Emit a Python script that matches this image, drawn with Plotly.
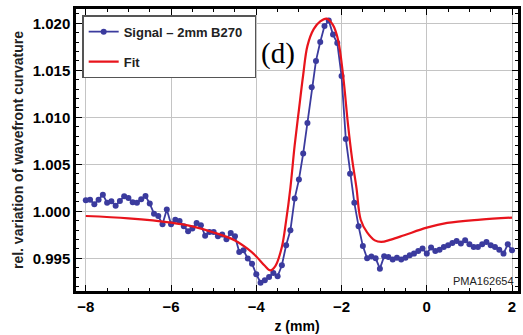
import plotly.graph_objects as go

# ---- data ----
signal_z = [round(-8.0 + 0.1 * i, 1) for i in range(101)]
signal_v = [
    1.00117, 1.00124, 1.00074, 1.00124, 1.00177, 1.00092, 1.00106, 1.00060, 1.00110, 1.00160,
    1.00142, 1.00096, 1.00092, 1.00128, 1.00163, 1.00082, 0.99975, 0.99950, 0.99862, 1.00018,
    0.99862, 0.99911, 0.99897, 0.99840, 0.99787, 0.99816, 0.99876, 0.99851, 0.99741, 0.99780,
    0.99780, 0.99734, 0.99752, 0.99702, 0.99769, 0.99734, 0.99567, 0.99585, 0.99497, 0.99443,
    0.99330, 0.99241, 0.99266, 0.99301, 0.99344, 0.99309, 0.99426, 0.99638, 0.99798, 1.00135,
    1.00337, 1.00614, 1.00940, 1.01320, 1.01600, 1.01800, 1.01970, 1.02030, 1.01880, 1.01790,
    1.01440, 1.00770, 1.00400, 1.00090, 0.99840, 0.99630, 0.99500, 0.99520, 0.99500, 0.99390,
    0.99521, 0.99514, 0.99486, 0.99507, 0.99486, 0.99507, 0.99532, 0.99550, 0.99578, 0.99603,
    0.99550, 0.99614, 0.99578, 0.99592, 0.99621, 0.99638, 0.99663, 0.99684, 0.99656, 0.99691,
    0.99649, 0.99621, 0.99621, 0.99649, 0.99674, 0.99638, 0.99621, 0.99592, 0.99550, 0.99649,
    0.99585,
]

fit_z = [-8.0, -7.0, -6.0, -5.5, -5.0, -4.5, -4.2, -4.0, -3.8, -3.67, -3.55, -3.4, -3.3, -3.2,
         -3.1, -3.0, -2.9, -2.8, -2.65, -2.5, -2.35, -2.2, -2.08, -1.96, -1.85, -1.75, -1.65,
         -1.55, -1.4, -1.22, -1.07, -0.84, -0.53, 0.0, 0.48, 1.26, 2.0]
fit_v = [0.99950, 0.99925, 0.99880, 0.99840, 0.99775, 0.99690, 0.99600, 0.99520, 0.99420, 0.99372,
         0.99420, 0.99621, 0.99900, 1.00250, 1.00700, 1.01080, 1.01450, 1.01760, 1.01940, 1.02020,
         1.02050, 1.01980, 1.01820, 1.01430, 1.00930, 1.00550, 1.00250, 0.99910, 0.99775, 0.99691,
         0.99674, 0.99699, 0.99745, 0.99826, 0.99876, 0.99911, 0.99933]

x_ticks = [-8, -6, -4, -2, 0, 2]
y_ticks = [0.995, 1.000, 1.005, 1.010, 1.015, 1.020]

FONT = "Liberation Sans"
BLUE = "#3b3b9e"
RED = "#e8141c"
PAD = "\u00a0" * 2

fig = go.Figure()
fig.add_trace(go.Scatter(
    x=signal_z, y=signal_v, mode="lines+markers", name="Signal \u2013 2mm B270" + PAD,
    line=dict(color=BLUE, width=1.8), marker=dict(color=BLUE, size=6),
    legendgroup="a",
))
fig.add_trace(go.Scatter(
    x=fit_z, y=fit_v, mode="lines", name="Fit", line_shape="spline",
    line=dict(color=RED, width=2.2), legendgroup="b",
))

axis_common = dict(
    showline=True, linecolor="black", linewidth=2.5, mirror="allticks",
    ticks="inside", ticklen=6, tickwidth=1, tickcolor="black",
    showgrid=True, gridcolor="#c4c4c4", gridwidth=1, zeroline=False,
    tickfont=dict(family=FONT, size=15, color="black", weight="bold"),
)

fig.update_xaxes(
    range=[-8.23, 2.14], tickvals=x_ticks,
    minor=dict(dtick=0.5, ticks="inside", ticklen=3, tickcolor="black", showgrid=False),
    title=dict(text="z (mm)", font=dict(family=FONT, size=14, color="black", weight="bold"),
               standoff=8),
    **axis_common,
)
fig.update_yaxes(
    range=[0.99152, 1.02152], tickvals=y_ticks, tickformat=".3f",
    minor=dict(dtick=0.001, ticks="inside", ticklen=3, tickcolor="black", showgrid=False),
    title=dict(text="rel. variation of wavefront curvature",
               font=dict(family=FONT, size=14, color="#222", weight="bold"), standoff=6),
    **axis_common,
)

fig.add_annotation(x=-3.50, y=1.0168, xref="x", yref="y", showarrow=False,
                   text="(d)", font=dict(family="Liberation Serif", size=29, color="black"))
fig.add_annotation(x=0.996, y=0.008, xref="paper", yref="paper", xanchor="right", yanchor="bottom",
                   showarrow=False, text="PMA162654",
                   font=dict(family=FONT, size=11, color="#222"))

fig.update_layout(
    width=523, height=335,
    margin=dict(l=76, r=2, t=9, b=44),
    plot_bgcolor="white", paper_bgcolor="white",
    showlegend=True,
    legend=dict(
        x=0.014, y=0.978, xanchor="left", yanchor="top",
        bgcolor="white", bordercolor="#555", borderwidth=1.5,
        font=dict(family=FONT, size=13, color="#222", weight="bold"),
        traceorder="grouped", tracegroupgap=10, itemwidth=30,
    ),
)

fig.write_html("out.html")
